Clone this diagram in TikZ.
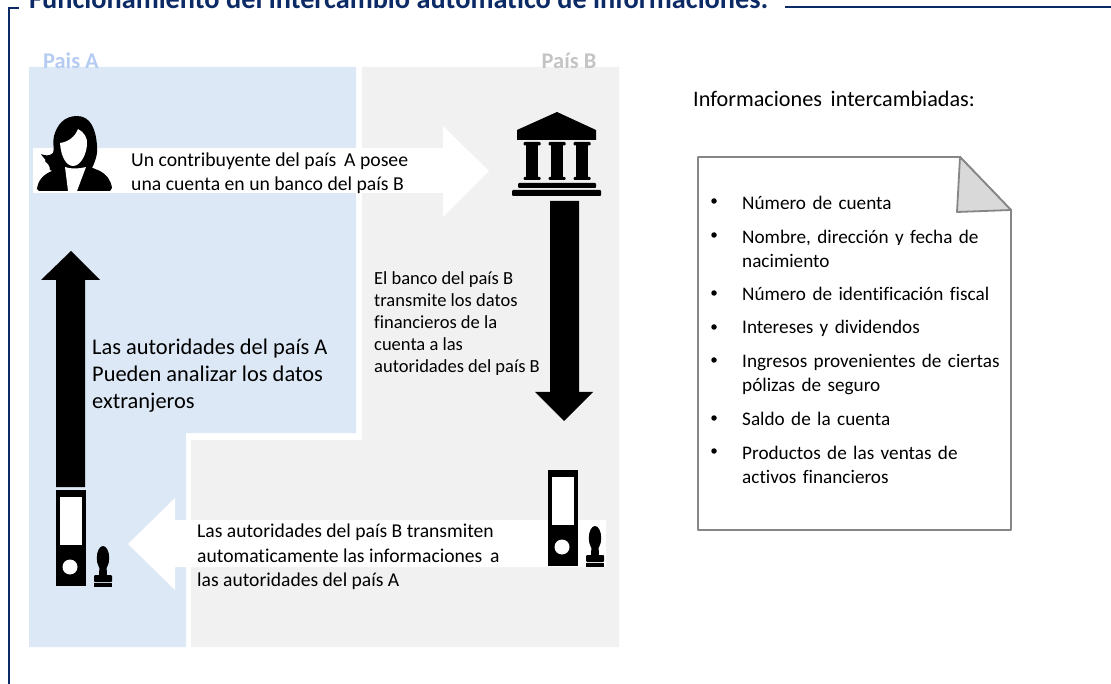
\documentclass[tikz,border=0pt]{standalone}
\usepackage{fontspec}
\setmainfont[Ligatures=NoCommon]{Carlito}
\definecolor{navy}{HTML}{0B2A66}
\definecolor{blueA}{HTML}{DCE8F5}
\definecolor{grayB}{HTML}{F1F1F1}
\definecolor{labA}{HTML}{B4CBF2}
\definecolor{labB}{HTML}{C4C4C4}
\tikzset{
  txt/.style={anchor=west,inner sep=0pt,font=\fontsize{#1}{#1}\selectfont,align=left,text=black},
  txt/.default=19.7,
  lab/.style={anchor=center,inner sep=0pt,font=\fontsize{22.4}{22.4}\selectfont\bfseries},
  bullet/.style={circle,fill=black,inner sep=0pt,minimum size=5.5pt},
  itm/.style={txt=19.2,text width=268pt,execute at begin node={\setlength{\baselineskip}{24pt}}},
  blk/.style={fill=black,draw=none},
  wht/.style={fill=white,draw=none}
}
\newcommand{\binder}[2]{%
  \begin{scope}[shift={(#1,#2)}]
    \fill[blk] (0,0) rectangle (30,96);
    \fill[wht] (3.5,7) rectangle (26,55);
    \fill[wht] (14,77) circle (7.5);
    \fill[blk] (47,68) ellipse (6.2 and 12);
    \fill[blk] (43.5,75) -- (50.5,75) -- (51,86) -- (43,86) -- cycle;
    \fill[blk,rounded corners=1pt] (38,85) rectangle (56,92);
    \fill[blk] (38,93) rectangle (56,96.5);
  \end{scope}}
\begin{document}
\begin{tikzpicture}[x=1pt,y=-1pt]
\useasboundingbox (0,0) rectangle (1111,684);
\clip (0,0) rectangle (1111,684);
% frame
\draw[navy,line width=2.6pt] (9,684) -- (9,8) -- (19,8);
\draw[navy,line width=2.6pt] (785,7) -- (1111,7);
\node[anchor=base west,inner sep=0pt,text=navy,font=\fontsize{28.3}{28.3}\selectfont\bfseries] (title) at (29,9) {Funcionamiento del intercambio automático de informaciones:};
% regions
\fill[blueA] (29,67) -- (356,67) -- (356,433) -- (186,433) -- (186,647) -- (29,647) -- cycle;
\fill[grayB] (362,67) -- (619,67) -- (619,647) -- (191,647) -- (191,440) -- (362,440) -- cycle;
\node[lab,text=labA] (paisA) at (71,60.5) {Pais A};
\node[lab,text=labB] (paisB) at (569,60.5) {País B};
% white arrows
\fill[wht] (33,148) -- (443,148) -- (443,126) -- (489,171) -- (443,217) -- (443,193) -- (33,193) -- cycle;
\fill[wht] (606,520) -- (175,520) -- (175,498) -- (128,544) -- (175,590) -- (175,567) -- (606,567) -- cycle;
% black arrows
\fill[blk] (550,201) -- (579,201) -- (579,392) -- (593,392) -- (564,421) -- (535,392) -- (550,392) -- cycle;
\fill[blk] (56,487) -- (85,487) -- (85,280) -- (100,280) -- (71,251) -- (41,280) -- (56,280) -- cycle;
% woman
\fill[blk] (77,116) .. controls (64,116) and (57,125) .. (54,136) .. controls (52,143) and (55,149) .. (53,153) .. controls (50,156) and (45,156) .. (41,154) .. controls (43,158) and (47,160) .. (45,161) .. controls (47,163) and (50,165) .. (50,170) -- (62,175) -- (92,168) .. controls (96,160) and (98,152) .. (97,146) .. controls (96,130) and (91,116) .. (77,116) -- cycle;
\fill[blk] (37,189) .. controls (38,180) and (44,174) .. (52,171) -- (62,166) -- (88,166) -- (100,171) .. controls (106,174) and (111,180) .. (112,188) -- (110,191) -- (39,191) -- cycle;
\fill[wht] (60,143) .. controls (68,142) and (75,137) .. (78,129) .. controls (84,132) and (88,138) .. (87,145) .. controls (86,156) and (80,166) .. (73,166) .. controls (67,166) and (61,158) .. (60,143) -- cycle;
\fill[wht] (65,167) .. controls (70,169) and (78,169) .. (86,167) -- (77,191) -- (68,191) -- cycle;
% bank
\fill[blk] (557,112) -- (596,130) -- (596,140) -- (517,140) -- (517,130) -- cycle;
\foreach \cx in {532,557,582}{
  \fill[blk] (\cx-6,144) rectangle (\cx+6,178);
  \fill[blk,rounded corners=1pt] (\cx-8.5,142) rectangle (\cx+8.5,145.5);
  \fill[blk,rounded corners=1pt] (\cx-8.5,177) rectangle (\cx+8.5,180);
}
\fill[blk,rounded corners=1pt] (518,183) rectangle (596,188);
\fill[blk,rounded corners=1pt] (512,190) rectangle (601,196);
% binders
\binder{56}{490}
\binder{548}{470}
% texts in diagram
\node[txt,execute at begin node={\setlength{\baselineskip}{24pt}}] (t1) at (131,173) {Un contribuyente del país\, A posee\\una cuenta en un banco del país B};
\node[txt=18.5,execute at begin node={\setlength{\baselineskip}{22pt}}] (t2) at (374,324) {El banco del país B\\transmite los datos\\financieros de la\\cuenta a las\\autoridades del país B};
\node[txt=22.4,execute at begin node={\setlength{\baselineskip}{27pt}}] (t3) at (92,376) {Las autoridades del país A\\Pueden analizar los datos\\extranjeros};
\node[txt=19.6,execute at begin node={\setlength{\baselineskip}{24.5pt}}] (t4) at (197,557) {Las autoridades del país B transmiten\\automaticamente las informaciones\, a\\las autoridades del país A};
\node[txt=22.2] (t5) at (693,99) {Informaciones\, intercambiadas:};
% document
\draw[draw=gray!95,line width=1.8pt,fill=white,line join=round] (698,157) -- (960,157) -- (1011,210) -- (1011,530) -- (698,530) -- cycle;
\draw[draw=gray!95,line width=1.8pt,fill=black!15,line join=round] (960,157) -- (957,212) -- (1011,210) -- cycle;
% list
\foreach \yy in {201,235,293,327,360,418,451}{\node[bullet] at (714,\yy) {};}
\node[itm] (i1) at (742,203) {Número de cuenta};
\node[itm] (i2) at (742,248.5) {Nombre, dirección y fecha de\\nacimiento};
\fill[wht] (742,244.6) rectangle (985,249.5);
\node[itm] (i3) at (742,294) {Número de identificación fiscal};
\node[itm] (i4) at (742,328) {Intereses y dividendos};
\node[itm] (i5) at (742,374) {Ingresos provenientes de ciertas\\pólizas de seguro};
\node[itm] (i6) at (742,419) {Saldo de la cuenta};
\node[itm] (i7) at (742,465) {Productos de las ventas de\\activos financieros};
\end{tikzpicture}
\end{document}
